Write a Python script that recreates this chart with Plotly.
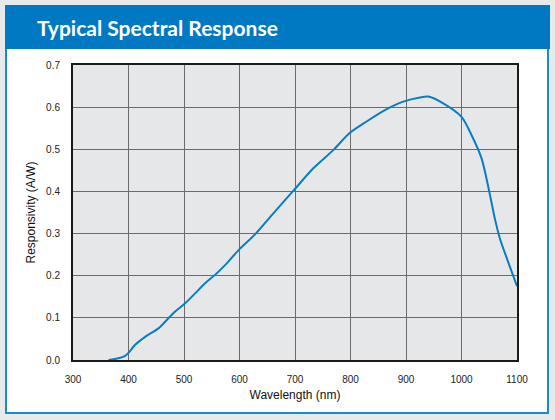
import plotly.graph_objects as go

wavelength = [364, 382, 394, 400, 412, 430, 454, 469, 484, 500, 520, 538, 556, 574, 600,
              628, 661, 698, 733, 769, 798, 829, 862, 895, 925, 940, 967, 1000, 1018,
              1036, 1050, 1060, 1069, 1084, 1100]
responsivity = [0.000, 0.004, 0.010, 0.017, 0.036, 0.055, 0.075, 0.095, 0.115, 0.132, 0.158,
                0.182, 0.202, 0.225, 0.263, 0.298, 0.348, 0.403, 0.455, 0.498, 0.538, 0.566,
                0.593, 0.613, 0.623, 0.625, 0.609, 0.577, 0.534, 0.479, 0.400, 0.336, 0.289,
                0.233, 0.175]

x_ticks = [300, 400, 500, 600, 700, 800, 900, 1000, 1100]
y_ticks = [0.0, 0.1, 0.2, 0.3, 0.4, 0.5, 0.6, 0.7]

W, H = 555, 420
L, R, T, B = 73, 38, 65, 60
pw, ph = W - L - R, H - T - B


def px(x):
    return (x - L) / pw


def py(y):
    return (H - B - y) / ph


fig = go.Figure()
fig.add_trace(go.Scatter(
    x=wavelength, y=responsivity, mode="lines",
    line=dict(color="#0a7cc4", width=2, shape="spline", smoothing=0.8),
    hoverinfo="skip", showlegend=False,
))

shapes = [
    dict(type="rect", xref="paper", yref="paper", x0=px(6), x1=px(548), y0=py(413), y1=py(6),
         fillcolor="white", line=dict(color="#1a88d2", width=2), layer="below"),
    dict(type="rect", xref="paper", yref="paper", x0=px(5), x1=px(550), y0=py(49), y1=py(5),
         fillcolor="#0079c2", line=dict(width=0), layer="below"),
    dict(type="rect", xref="paper", yref="paper", x0=0, x1=1, y0=0, y1=1,
         fillcolor="#e6e7e8", line=dict(width=0), layer="below"),
]

fig.update_layout(
    width=W, height=H,
    margin=dict(l=L, r=R, t=T, b=B, autoexpand=False),
    paper_bgcolor="#e6eaeb",
    plot_bgcolor="#e6e7e8",
    shapes=shapes,
    font=dict(family="Liberation Sans, Arial, sans-serif", color="#222", size=10),
    annotations=[dict(
        text="<b>Typical Spectral Response</b>", xref="paper", yref="paper",
        x=px(35), y=py(27), xanchor="left", yanchor="middle", showarrow=False,
        font=dict(family="Lato, Open Sans, sans-serif", size=21, color="white"),
    )],
    xaxis=dict(
        range=[300, 1100], tickvals=x_ticks, ticktext=[str(v) for v in x_ticks],
        showgrid=True, gridcolor="#6b6b6b", gridwidth=1, zeroline=False,
        showline=True, linecolor="#1a1a1a", linewidth=2, mirror=True,
        ticks="", ticklen=0, ticklabelstandoff=9, tickfont=dict(size=10, color="#222"),
        title=dict(text="Wavelength (nm)", font=dict(size=12, color="#111"), standoff=7),
        fixedrange=True, automargin=False,
    ),
    yaxis=dict(
        range=[0, 0.7], tickvals=y_ticks, ticktext=[f"{v:.1f}" for v in y_ticks],
        showgrid=True, gridcolor="#6b6b6b", gridwidth=1, zeroline=False,
        showline=True, linecolor="#1a1a1a", linewidth=2, mirror=True,
        ticks="", ticklen=0, ticklabelstandoff=9, tickfont=dict(size=10, color="#222"),
        title=dict(text="Responsivity (A/W)", font=dict(size=12, color="#111"), standoff=8),
        fixedrange=True, automargin=False,
    ),
)

fig.write_html("out.html", config={"displayModeBar": False},
               post_script="document.body.style.margin='0';")
